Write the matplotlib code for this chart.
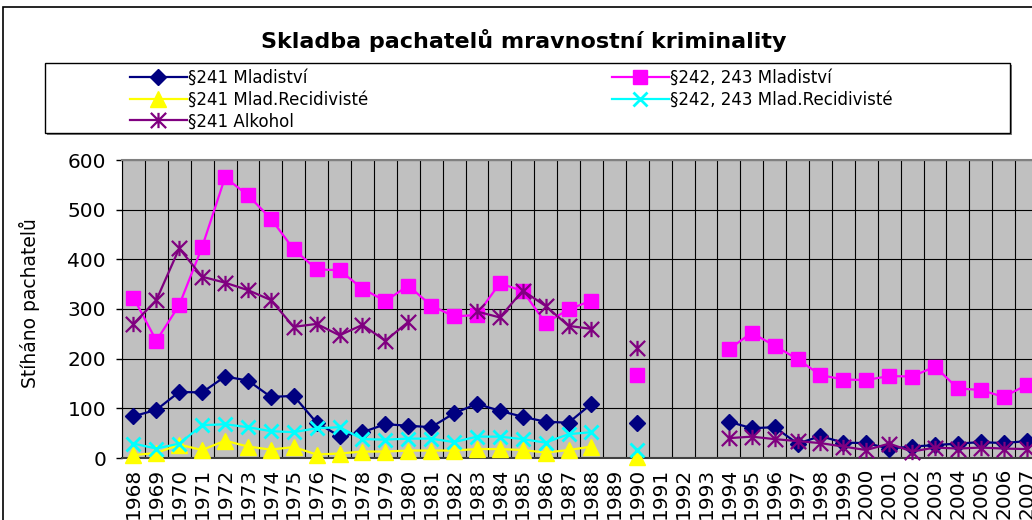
import numpy as np
import matplotlib
matplotlib.use("Agg")
import matplotlib.pyplot as plt
from matplotlib.path import Path
from matplotlib.patches import Rectangle

nan = np.nan
years = list(range(1968, 2008))

# 1968 ... 2007 (nan = no value)
p241_mlad = [84, 97, 133, 132, 164, 156, 123, 125, 71, 44, 52, 68, 65, 62, 90, 109, 95, 83, 73, 71,
             109, nan, 71, nan, nan, nan, 73, 60, 62, 29, 44, 31, 30, 19, 23, 26, 29, 32, 30, 34]
p242_mlad = [323, 236, 308, 425, 565, 529, 482, 420, 380, 378, 341, 316, 347, 307, 285, 288, 352, 336, 272, 299,
             317, nan, 167, nan, nan, nan, 219, 252, 226, 199, 167, 158, 157, 165, 164, 184, 140, 137, 123, 147]
p241_recid = [6, 10, 27, 16, 35, 23, 17, 22, 7, 9, 13, 13, 15, 15, 15, 18, 18, 16, 11, 16,
              23, nan, 3] + [nan] * 17
p242_recid = [29, 19, 29, 66, 68, 62, 54, 52, 60, 62, 38, 37, 39, 39, 32, 43, 43, 38, 31, 48,
              52, nan, 16] + [nan] * 17
p241_alk = [270, 318, 422, 365, 353, 338, 318, 264, 270, 247, 268, 236, 274, nan, nan, 295, 283, 337, 306, 266,
            260, nan, 221, nan, nan, nan, 40, 43, 38, 34, 30, 23, 16, 29, 13, 21, 19, 21, 19, 18]

W, H = 1032, 520
fig = plt.figure(figsize=(W / 100, H / 100), dpi=100)
plt.rcParams['font.family'] = 'DejaVu Sans'

# excel style asterisk: x plus a vertical bar
star = Path([(-1, -1), (1, 1), (-1, 1), (1, -1), (0, -1), (0, 1)],
            [Path.MOVETO, Path.LINETO] * 3)

ax = fig.add_axes([122 / W, (H - 458) / H, 916 / W, 298 / H])
ax.set_facecolor('#C0C0C0')
x = np.arange(len(years))

series = [
    (p241_mlad, '#000080', 'D', 8, 1, '§241 Mladiství'),
    (p242_mlad, '#FF00FF', 's', 10, 1, '§242, 243 Mladiství'),
    (p241_recid, '#FFFF00', '^', 11, 1, '§241 Mlad.Recidivisté'),
    (p242_recid, '#00FFFF', 'x', 10, 2, '§242, 243 Mlad.Recidivisté'),
    (p241_alk, '#800080', star, 11, 1.6, '§241 Alkohol'),
]
handles = {}
for vals, col, mk, ms, mew, lab in series:
    ln, = ax.plot(x, vals, color=col, lw=1.6, marker=mk, ms=ms, mew=mew,
                  mec=col, mfc=col, label=lab, clip_on=False, zorder=3)
    handles[lab] = ln

ax.set_xlim(-0.5, len(years) - 0.5)
ax.set_ylim(0, 600)
ax.set_yticks(range(0, 601, 100))
ax.set_xticks(x)
ax.set_xticklabels([str(y) for y in years], rotation=90, fontsize=14.5, va='top')
ax.set_xticks(np.arange(-0.5, len(years), 1), minor=True)
ax.tick_params(axis='x', which='both', length=0, pad=7)
ax.tick_params(axis='y', length=4.5, width=1, pad=7, labelsize=14.5)
ax.grid(axis='y', which='major', color='black', lw=0.8)
ax.grid(axis='x', which='minor', color='black', lw=0.8)
ax.set_axisbelow(True)
ax.spines['left'].set_color('black')
ax.spines['bottom'].set_color('#404040')
ax.spines['bottom'].set_linewidth(1.5)
ax.spines['top'].set_color('#808080')
ax.spines['top'].set_linewidth(1.5)
ax.spines['right'].set_color('#808080')
ax.set_ylabel('Stíháno pachatelů', fontsize=13.5)
ax.yaxis.set_label_coords(40 / W, 1 - 303 / H, transform=fig.transFigure)

fig.text(524 / W, 1 - 41 / H, 'Skladba pachatelů mravnostní kriminality',
         ha='center', va='center', fontsize=16, fontweight='bold')

# legend box with small shadow
fig.patches.append(Rectangle((47 / W, 1 - 135 / H), 965 / W, 70 / H, transform=fig.transFigure,
                             facecolor='#808080', edgecolor='none', zorder=1))
fig.patches.append(Rectangle((45 / W, 1 - 133 / H), 965 / W, 70 / H, transform=fig.transFigure,
                             facecolor='white', edgecolor='black', lw=1, zorder=2))
# outer chart frame
fig.patches.append(Rectangle((3 / W, -0.1), 1.2, 1.1 - 7 / H, transform=fig.transFigure,
                             facecolor='none', edgecolor='black', lw=1.2, zorder=2))

leg_kw = dict(frameon=False, fontsize=12, handlelength=3.4, handletextpad=0.1,
              borderpad=0, borderaxespad=0, labelspacing=0.22, loc='upper left')
col1 = ['§241 Mladiství', '§241 Mlad.Recidivisté', '§241 Alkohol']
col2 = ['§242, 243 Mladiství', '§242, 243 Mlad.Recidivisté']
l1 = fig.legend([handles[k] for k in col1], col1, bbox_to_anchor=(130 / W, 1 - 69 / H), **leg_kw)
l2 = fig.legend([handles[k] for k in col2], col2, bbox_to_anchor=(612 / W, 1 - 69 / H), **leg_kw)
for l in (l1, l2):
    l.set_zorder(5)

fig.savefig('out.png', dpi=100, facecolor='white')
